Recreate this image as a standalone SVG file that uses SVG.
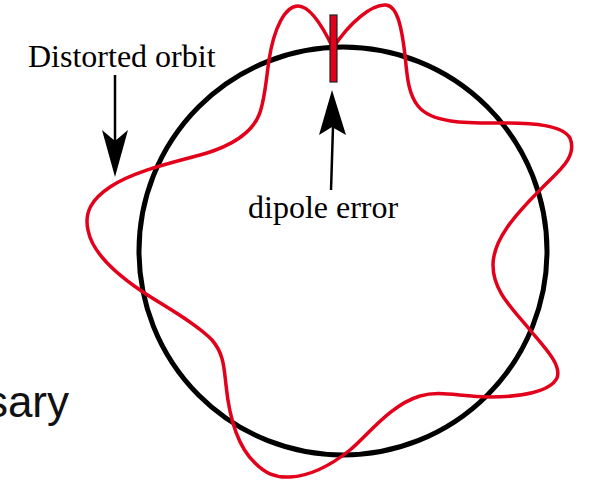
<svg xmlns="http://www.w3.org/2000/svg" width="590" height="482" viewBox="0 0 590 482">
<style>
.serif{font-family:"Liberation Serif","Times New Roman",serif;font-size:32px;fill:#000}
.sans{font-family:"Liberation Sans",Arial,sans-serif;font-size:44px;fill:#111}
.arrowline{stroke:#000;stroke-width:2.5;fill:none}
.head{fill:#000}
</style>
<rect width="590" height="482" fill="#fff"/>
<g id="ideal-orbit">
<circle cx="343" cy="251" r="204" fill="none" stroke="#000" stroke-width="5"/>
</g>
<g id="distorted-orbit">
<path fill="none" stroke="#e2001a" stroke-width="3.5" stroke-linejoin="round" d="M333,48 C322,25 310,6 298,6 C285,6 274,28 269,60 C266,80 265,100 259,115 C252,132 232,145 207,153 C180,161 135,170 110,187 C92,199 84,212 88,230 C92,252 115,273 140,290 C160,304 195,322 212,340 C224,354 224,368 226,385 C229,415 236,445 255,463 C265,473 275,478 290,477 C310,476 330,466 350,450 C368,435 390,405 420,396 C440,390 460,397 490,397 C520,397 550,392 557,378 C562,365 545,348 530,330 C510,306 493,290 493,265 C493,240 515,215 540,190 C557,172 578,158 570,138 C562,125 535,123 500,123 C470,123 432,124 418,106 C408,94 407,75 405,55 C402,30 398,6 386,5 C372,4 350,22 333,48 Z"/>
</g>
<g id="dipole">
<rect x="330" y="15" width="7" height="67" fill="#e2001a" stroke="#222" stroke-width="1.2"/>
</g>
<g id="label-distorted">
<text class="serif" x="28" y="67">Distorted orbit</text>
</g>
<g id="label-dipole">
<text class="serif" x="248" y="218">dipole error</text>
</g>
<g id="label-sary">
<text class="sans" x="69" y="417" text-anchor="end">sary</text>
</g>
<g id="connectors">
<line class="arrowline" x1="115" y1="75" x2="115" y2="142"/>
<polygon class="head" points="115,177 102,130 115,141 128,130"/>
<line class="arrowline" x1="333" y1="127" x2="331" y2="190"/>
<polygon class="head" points="332,90 319,135 332,127 346,135"/>
</g>
</svg>
